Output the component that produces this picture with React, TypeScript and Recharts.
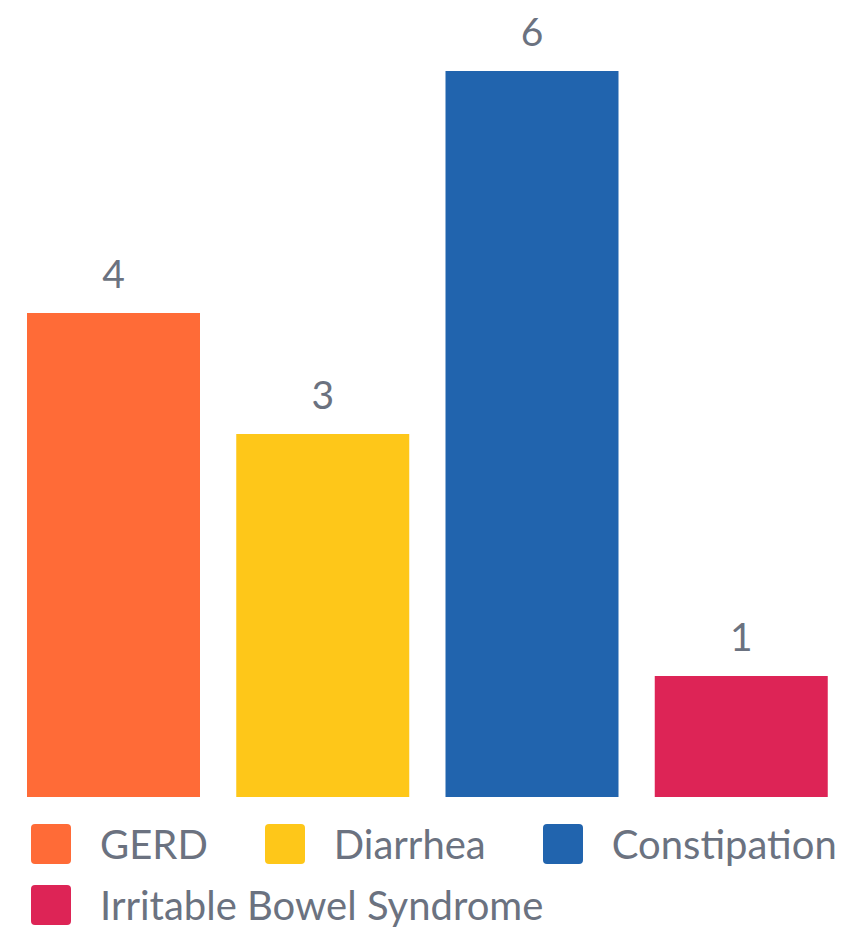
import React from 'react';
import { BarChart, Bar, Cell, XAxis, YAxis, Legend, LabelList } from 'recharts';

const CATEGORIES = ['GERD', 'Diarrhea', 'Constipation', 'Irritable Bowel Syndrome'];
const COUNTS = [4, 3, 6, 1];
const COLORS = ['#ff6b37', '#fec719', '#2164ae', '#dd2456'];

const TEXT_COLOR = '#6b7280';
const FONT = 'Lato, "Noto Sans", sans-serif';

const data = CATEGORIES.map((name, i) => ({ name, value: COUNTS[i] }));

// legend drawn from the same category / colour lists
const LegendContent = () => (
  <div
    style={{
      height: 128,
      boxSizing: 'border-box',
      paddingTop: 27,
      paddingLeft: 31,
      display: 'flex',
      flexWrap: 'wrap',
      columnGap: 57,
      rowGap: 20,
      width: 850,
    }}
  >
    {CATEGORIES.map((name, i) => (
      <div key={name} style={{ display: 'flex', alignItems: 'center', height: 40 }}>
        <div style={{ width: 40, height: 40, borderRadius: 4, background: COLORS[i], marginRight: 29 }} />
        <span style={{ fontFamily: FONT, fontSize: 40, color: TEXT_COLOR, lineHeight: '40px' }}>{name}</span>
      </div>
    ))}
  </div>
);

export default function App() {
  return (
    <div style={{ position: 'absolute', left: 0, top: 0, background: '#fff' }}>
      <BarChart
        width={858}
        height={934}
        data={data}
        margin={{ top: 71, right: 12, bottom: 9, left: 9 }}
      >
        <XAxis dataKey="name" hide />
        <YAxis hide domain={[0, 6]} />
        <Bar dataKey="value" barSize={173} isAnimationActive={false}>
          {data.map((entry, i) => (
            <Cell key={entry.name} fill={COLORS[i]} />
          ))}
          <LabelList
            dataKey="value"
            position="top"
            offset={25}
            fill={TEXT_COLOR}
            style={{ fontFamily: FONT, fontSize: 39 }}
          />
        </Bar>
        <Legend
          verticalAlign="bottom"
          content={<LegendContent />}
          wrapperStyle={{ left: 0, width: 858, height: 128 }}
        />
      </BarChart>
    </div>
  );
}
